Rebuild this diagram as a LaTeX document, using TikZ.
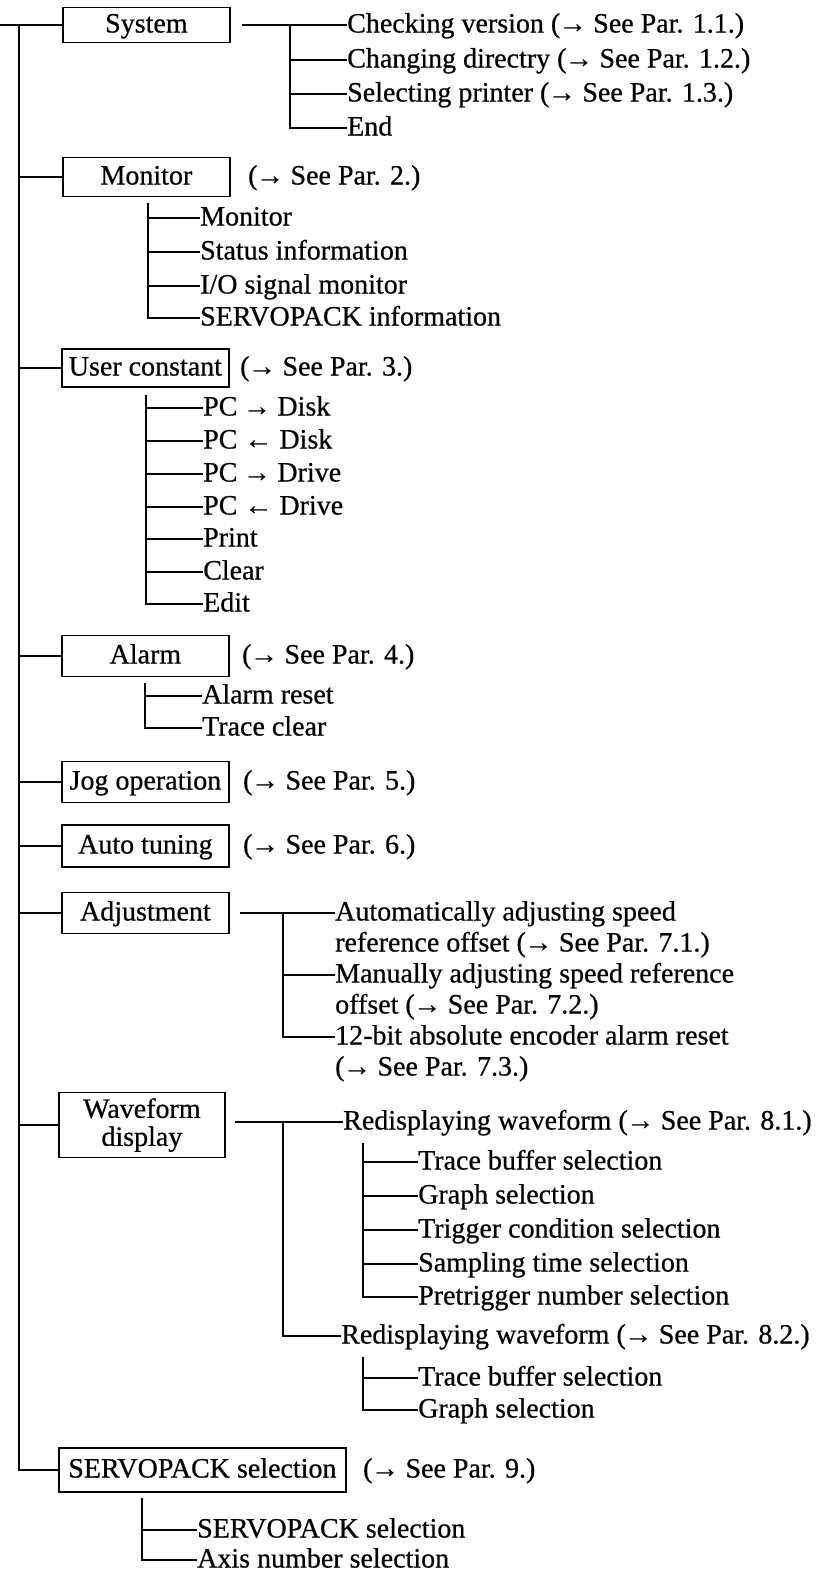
\documentclass[tikz,border=0pt]{standalone}
\usepackage{fontspec}
\setmainfont{Liberation Serif}[FakeBold=0.6]
\newcommand\diafont{\fontsize{28}{33}\selectfont}
\newcommand\rarr{\kern-1.5pt→\kern-0.5pt}
\newcommand\larr{←}
\tikzset{
  ln/.style={line width=1.8pt},
  box/.style={draw, line width=1.8pt, minimum width=167pt, minimum height=40pt, inner sep=0pt, font=\diafont, anchor=west},
  one/.style={text height=20pt, text depth=5pt},
  txt/.style={inner sep=0pt, anchor=west, font=\diafont, text height=20pt, text depth=5pt},
}
\begin{document}
\begin{tikzpicture}[x=1pt,y=-1pt]
\useasboundingbox (0,0) rectangle (824,1574);
% main boxes
\node[box, one, minimum height=35pt] (sys) at (62,25) {System};
\node[box, one, minimum height=39pt] (mon) at (62,177) {Monitor};
\node[box, one, minimum height=38pt] (usr) at (61,368) {User constant};
\node[box, one, minimum height=41pt] (alm) at (61,656) {Alarm};
\node[box, one, minimum height=41pt] (jog) at (61,782) {Jog operation};
\node[box, one, minimum height=42pt] (aut) at (61,846) {Auto tuning};
\node[box, one, minimum height=41pt] (adj) at (61,913) {Adjustment};
\node[box, minimum height=65pt, minimum width=166pt, align=center, font=\fontsize{28}{28}\selectfont] (wav) at (58,1125) {Waveform\\display};
\node[box, one, minimum height=44pt, minimum width=287pt] (srv) at (58,1470) {SERVOPACK selection};
% references
\node[txt] (monp) at (248,177) {(\rarr{} See Par. 2.)};
\node[txt] (usrp) at (240,368) {(\rarr{} See Par. 3.)};
\node[txt] (almp) at (242,656) {(\rarr{} See Par. 4.)};
\node[txt] (jogp) at (243,782) {(\rarr{} See Par. 5.)};
\node[txt] (autp) at (243,846) {(\rarr{} See Par. 6.)};
\node[txt] (srvp) at (363,1470) {(\rarr{} See Par. 9.)};
% trunk
\coordinate (in) at (0,25);
\coordinate (trt) at (19,25);
\draw[ln] (in) -- (sys.west);
\draw[ln] (trt) |- (srv.west);
\foreach \b in {mon,usr,alm,jog,aut,adj,wav} \draw[ln] (trt |- \b.west) -- (\b.west);
% System
\node[txt] (s1) at (347,25) {Checking version (\rarr{} See Par. 1.1.)};
\node[txt] (s2) at (347,60) {Changing directry (\rarr{} See Par. 1.2.)};
\node[txt] (s3) at (347,94) {Selecting printer (\rarr{} See Par. 1.3.)};
\node[txt] (s4) at (347,128) {End};
\coordinate (sysb) at (290,25);
\draw[ln] ([xshift=11pt]sys.east) -- (s1.west);
\draw[ln] (sysb) |- (s4.west);
\foreach \n in {s2,s3} \draw[ln] (sysb |- \n.west) -- (\n.west);
% Monitor
\node[txt] (m1) at (200,218) {Monitor};
\node[txt] (m2) at (200,252) {Status information};
\node[txt] (m3) at (200,286) {I/O signal monitor};
\node[txt] (m4) at (200,318) {SERVOPACK information};
\coordinate (monb) at (148,203);
\draw[ln] (monb) |- (m4.west);
\foreach \n in {m1,m2,m3} \draw[ln] (monb |- \n.west) -- (\n.west);
% User constant
\node[txt] (u1) at (203,408) {PC \rarr{} Disk};
\node[txt] (u2) at (203,441) {PC \larr{} Disk};
\node[txt] (u3) at (203,474) {PC \rarr{} Drive};
\node[txt] (u4) at (203,507) {PC \larr{} Drive};
\node[txt] (u5) at (203,539) {Print};
\node[txt] (u6) at (203,572) {Clear};
\node[txt] (u7) at (203,604) {Edit};
\coordinate (usrb) at (146,395);
\draw[ln] (usrb) |- (u7.west);
\foreach \n in {u1,u2,u3,u4,u5,u6} \draw[ln] (usrb |- \n.west) -- (\n.west);
% Alarm
\node[txt] (a1) at (202,696) {Alarm reset};
\node[txt] (a2) at (202,728) {Trace clear};
\coordinate (almb) at (145,683);
\draw[ln] (almb) |- (a2.west);
\draw[ln] (almb |- a1.west) -- (a1.west);
% Adjustment
\node[txt] (d1) at (335,913) {Automatically adjusting speed};
\node[txt] (d1b) at (335,944) {reference offset (\rarr{} See Par. 7.1.)};
\node[txt] (d2) at (335,975) {Manually adjusting speed reference};
\node[txt] (d2b) at (335,1006) {offset (\rarr{} See Par. 7.2.)};
\node[txt] (d3) at (335,1037) {12-bit absolute encoder alarm reset};
\node[txt] (d3b) at (335,1068) {(\rarr{} See Par. 7.3.)};
\coordinate (adjb) at (283,913);
\draw[ln] ([xshift=10pt]adj.east) -- (d1.west);
\draw[ln] (adjb) |- (d3.west);
\draw[ln] (adjb |- d2.west) -- (d2.west);
% Waveform
\node[txt] (w1) at (343,1122) {Redisplaying waveform (\rarr{} See Par. 8.1.)};
\node[txt] (w2) at (341,1336) {Redisplaying waveform (\rarr{} See Par. 8.2.)};
\coordinate (wavb) at (283,1122);
\draw[ln] ([xshift=9pt]wav.east |- w1.west) -- (w1.west);
\draw[ln] (wavb) |- (w2.west);
\node[txt] (p1) at (418,1162) {Trace buffer selection};
\node[txt] (p2) at (418,1196) {Graph selection};
\node[txt] (p3) at (418,1230) {Trigger condition selection};
\node[txt] (p4) at (418,1264) {Sampling time selection};
\node[txt] (p5) at (418,1297) {Pretrigger number selection};
\coordinate (w1b) at (363,1143);
\draw[ln] (w1b) |- (p5.west);
\foreach \n in {p1,p2,p3,p4} \draw[ln] (w1b |- \n.west) -- (\n.west);
\node[txt] (q1) at (418,1378) {Trace buffer selection};
\node[txt] (q2) at (418,1410) {Graph selection};
\coordinate (w2b) at (363,1357);
\draw[ln] (w2b) |- (q2.west);
\draw[ln] (w2b |- q1.west) -- (q1.west);
% SERVOPACK selection
\node[txt] (r1) at (197,1530) {SERVOPACK selection};
\node[txt] (r2) at (197,1560) {Axis number selection};
\coordinate (srvb) at (142,1498);
\draw[ln] (srvb) |- (r2.west);
\draw[ln] (srvb |- r1.west) -- (r1.west);
\end{tikzpicture}
\end{document}
